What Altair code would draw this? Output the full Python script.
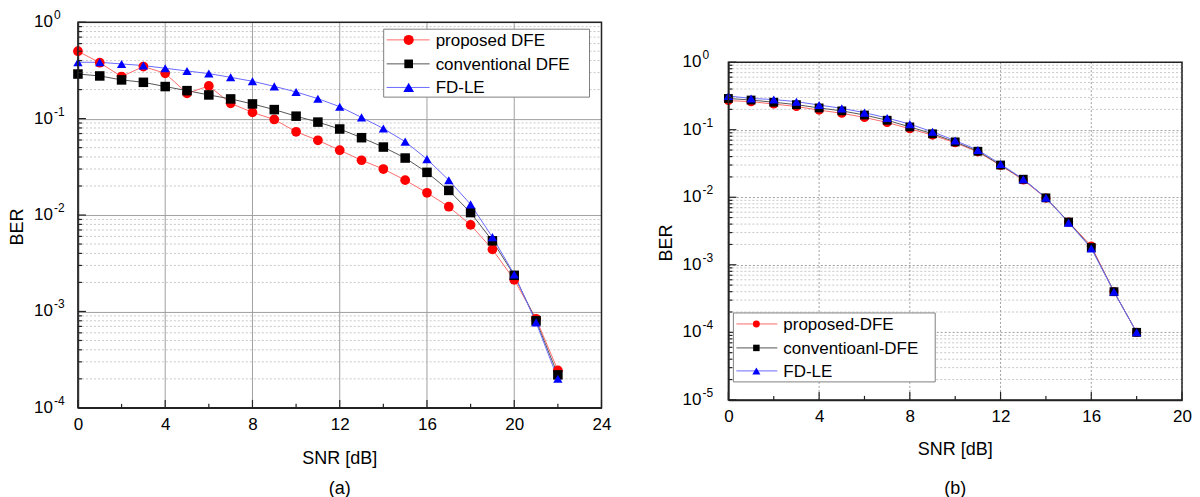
import altair as alt
import pandas as pd

FONT = "Liberation Sans"

# ---------------- data: panel (a) ----------------
snr_a = list(range(0, 23))
prop_a = [0.50, 0.38, 0.273, 0.347, 0.295, 0.183, 0.218, 0.144, 0.116, 0.098, 0.073, 0.0596,
          0.047, 0.037, 0.030, 0.023, 0.017, 0.0122, 0.0079, 0.0044, 0.00213, 0.00084, 0.000245]
conv_a = [0.29, 0.277, 0.252, 0.238, 0.215, 0.195, 0.176, 0.16, 0.142, 0.124, 0.106, 0.092,
          0.078, 0.0634, 0.0507, 0.039, 0.0277, 0.018, 0.0106, 0.0054, 0.00237, 0.0008, 0.00022]
fdle_a = [0.384, 0.384, 0.369, 0.355, 0.333, 0.312, 0.293, 0.268, 0.244, 0.216, 0.189, 0.161,
          0.133, 0.103, 0.079, 0.0577, 0.038, 0.023, 0.0129, 0.0059, 0.00242, 0.00077, 0.0002]
names_a = ["proposed DFE", "conventional DFE", "FD-LE"]

# ---------------- data: panel (b) ----------------
snr_b = list(range(0, 19))
prop_b = [0.27, 0.26, 0.24, 0.22, 0.195, 0.175, 0.152, 0.128, 0.103, 0.083, 0.064, 0.047,
          0.0295, 0.018, 0.0097, 0.0043, 0.0019, 0.0004, 0.0001]
conv_b = [0.29, 0.275, 0.255, 0.235, 0.21, 0.19, 0.165, 0.138, 0.11, 0.087, 0.066, 0.048,
          0.030, 0.0185, 0.0098, 0.0043, 0.0018, 0.0004, 0.0001]
fdle_b = [0.316, 0.29, 0.28, 0.26, 0.232, 0.207, 0.179, 0.149, 0.121, 0.093, 0.069, 0.05,
          0.031, 0.0185, 0.0098, 0.0042, 0.00175, 0.0004, 0.0001]
names_b = ["proposed-DFE", "conventioanl-DFE", "FD-LE"]

# ---------------- ticks ----------------
xticks_a = [0, 4, 8, 12, 16, 20, 24]
xminor_a = [2, 6, 10, 14, 18, 22]
xticks_b = [0, 4, 8, 12, 16, 20]
xminor_b = [2, 6, 10, 14, 18]
decades_a = [1, 0.1, 0.01, 0.001, 0.0001]
exps_a = ["0", "-1", "-2", "-3", "-4"]
decades_b = [1, 0.1, 0.01, 0.001, 0.0001, 0.00001]
exps_b = ["0", "-1", "-2", "-3", "-4", "-5"]
minor_mult = [2, 3, 4, 5, 6, 7, 8, 9]

marker_color = ["#ff0000", "#000000", "#0000ff"]
line_color = ["#ff6a6a", "#555555", "#6a6aff"]
shapes = ["circle", "square", "triangle-up"]


def panel(snr, series, names, w, h, off, ydom, xdom, xticks, xminor, decades, exps,
          grid_dash, sizes, leg, caption, cap_dy, snr_dy, ber_dx, lab_dx):
    H = h + off
    rows = []
    for k, (name, vals) in enumerate(zip(names, series)):
        for s, v in zip(snr, vals):
            rows.append({"snr": s, "ber": v, "series": name, "k": k})
    df = pd.DataFrame(rows)

    X = alt.X("snr:Q", scale=alt.Scale(domain=xdom, nice=False, zero=False),
              axis=alt.Axis(values=xticks, title=None, labelFontSize=17, labelFont=FONT,
                            labelColor="black", labelPadding=9, ticks=False,
                            domainColor="#222", domainWidth=1.5, grid=False,
                            labelFlush=False))
    Y = alt.Y("ber:Q", scale=alt.Scale(type="log", domain=ydom, nice=False, range=[H, off]),
              axis=alt.Axis(values=decades, labels=False, ticks=False, title=None,
                            domainColor="#222", domainWidth=1.5, grid=True,
                            gridColor="#a0a0a0", gridWidth=1, gridDash=grid_dash))

    minor_vals = [m * d for d in decades[1:] for m in minor_mult]
    minor_df = pd.DataFrame({"ber": minor_vals})
    dec_df = pd.DataFrame({"ber": decades, "exp": exps})
    xmaj_df = pd.DataFrame({"snr": xticks})
    xmin_df = pd.DataFrame({"snr": xminor})

    minor_grid = alt.Chart(minor_df).mark_rule(color="#c8c8c8", strokeWidth=1,
                                               strokeDash=[2, 2]).encode(
        y=Y, x=alt.value(0), x2=alt.value(w))
    xgrid = alt.Chart(xmaj_df).mark_rule(color="#a0a0a0", strokeWidth=1,
                                         strokeDash=grid_dash).encode(
        x=X, y=alt.value(off), y2=alt.value(H))
    ytick_minor = alt.Chart(minor_df).mark_rule(color="#222", strokeWidth=1.2).encode(
        y=Y, x=alt.value(0), x2=alt.value(4))
    ytick_major = alt.Chart(dec_df).mark_rule(color="#222", strokeWidth=1.2).encode(
        y=Y, x=alt.value(0), x2=alt.value(8))
    xtick_minor = alt.Chart(xmin_df).mark_rule(color="#222", strokeWidth=1.2).encode(
        x=X, y=alt.value(H), y2=alt.value(H - 4))
    xtick_major = alt.Chart(xmaj_df).mark_rule(color="#222", strokeWidth=1.2).encode(
        x=X, y=alt.value(H), y2=alt.value(H - 8))
    frame = alt.Chart(pd.DataFrame({"k": [0]})).mark_rect(
        fillOpacity=0, stroke="#222", strokeWidth=1.5).encode(
        x=alt.value(0), x2=alt.value(w), y=alt.value(off), y2=alt.value(H))

    ylab10 = alt.Chart(dec_df).mark_text(font=FONT, fontSize=17, align="right",
                                         baseline="middle", color="black").encode(
        y=Y, x=alt.value(lab_dx), text=alt.value("10"))
    ylabexp = alt.Chart(dec_df).mark_text(font=FONT, fontSize=12, align="left",
                                          baseline="middle", dy=-7, color="black").encode(
        y=Y, x=alt.value(lab_dx + 1), text="exp:N")

    lines = alt.Chart(df).mark_line(strokeWidth=1).encode(
        x=X, y=Y,
        stroke=alt.Stroke("series:N", scale=alt.Scale(domain=names, range=line_color),
                          legend=None),
        order=alt.Order("snr:Q"))
    points = alt.Chart(df).mark_point(filled=True, opacity=1, strokeWidth=0).encode(
        x=X, y=Y,
        fill=alt.Fill("series:N", scale=alt.Scale(domain=names, range=marker_color),
                      legend=None),
        shape=alt.Shape("series:N", scale=alt.Scale(domain=names, range=shapes), legend=None),
        size=alt.Size("series:N", scale=alt.Scale(domain=names, range=sizes), legend=None),
        order=alt.Order("k:Q", sort="ascending"))

    ber = alt.Chart(pd.DataFrame({"t": ["BER"]})).mark_text(
        font=FONT, fontSize=18, angle=270, baseline="middle", align="center",
        color="black").encode(x=alt.value(ber_dx), y=alt.value(off + h / 2 + 12), text="t:N")
    snr_t = alt.Chart(pd.DataFrame({"t": ["SNR [dB]"]})).mark_text(
        font=FONT, fontSize=18, baseline="middle", align="center", color="black").encode(
        x=alt.value(w / 2), y=alt.value(H + snr_dy), text="t:N")
    cap_t = alt.Chart(pd.DataFrame({"t": [caption]})).mark_text(
        font=FONT, fontSize=18, baseline="middle", align="center", color="black").encode(
        x=alt.value(w / 2), y=alt.value(H + cap_dy), text="t:N")

    # legend (inside the plot)
    lx0, lx1, ly0, ly1, row_y, line_x0, line_x1, mark_x, text_x, lsizes = leg
    box = alt.Chart(pd.DataFrame({"k": [0]})).mark_rect(
        fill="white", stroke="#808080", strokeWidth=1).encode(
        x=alt.value(lx0), x2=alt.value(lx1), y=alt.value(off + ly0), y2=alt.value(off + ly1))
    legend_layers = [box]
    for i, name in enumerate(names):
        ldf = pd.DataFrame({"label": [name]})
        ry = off + row_y[i]
        legend_layers.append(alt.Chart(ldf).mark_rule(color=line_color[i], strokeWidth=1).encode(
            x=alt.value(line_x0), x2=alt.value(line_x1), y=alt.value(ry)))
        legend_layers.append(alt.Chart(ldf).mark_point(
            filled=True, opacity=1, shape=shapes[i], size=lsizes[i], color=marker_color[i],
            strokeWidth=0).encode(x=alt.value(mark_x), y=alt.value(ry)))
        legend_layers.append(alt.Chart(ldf).mark_text(
            font=FONT, fontSize=17, align="left", baseline="middle", color="black").encode(
            x=alt.value(text_x), y=alt.value(ry + 1), text="label:N"))

    layers = [minor_grid, xgrid, lines, points, ytick_minor, ytick_major, xtick_minor,
              xtick_major, frame, ylab10, ylabexp, ber, snr_t, cap_t] + legend_layers
    return alt.layer(*layers).properties(width=w, height=H)


leg_a = (306, 512, 7, 75, [17.7, 41.7, 65.3], 309, 352, 331, 358, [100, 75, 115])
chart_a = panel(snr_a, [prop_a, conv_a, fdle_a], names_a, 524, 386, 0, [1e-4, 1], [0, 24],
                xticks_a, xminor_a, decades_a, exps_a, [], [95, 78, 110],
                leg_a, "(a)", 81, 51, -60, -25)

leg_b = (5, 207, 251, 320, [262, 286, 309], 8, 49, 28, 55, [48, 42, 65])
chart_b = panel(snr_b, [prop_b, conv_b, fdle_b], names_b, 454, 338, 40, [1e-5, 1], [0, 20],
                xticks_b, xminor_b, decades_b, exps_b, [2, 2], [60, 44, 95],
                leg_b, "(b)", 89, 50.5, -61, -27)

chart = alt.hconcat(chart_a, chart_b, spacing=46).properties(
    padding={"left": 0, "top": 0, "right": 0, "bottom": 0},
    background="white",
).configure_view(stroke="transparent")

chart.save("out.html", embed_options={"renderer": "svg", "actions": False})
